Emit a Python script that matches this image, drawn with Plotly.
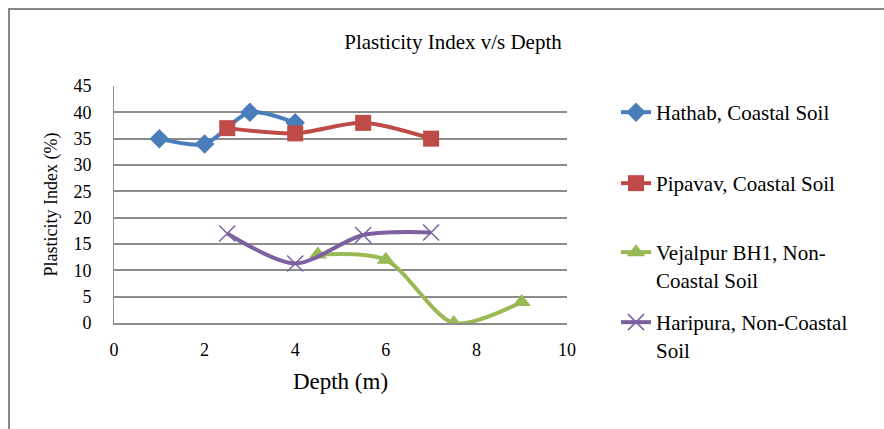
import plotly.graph_objects as go

hathab_x = [1, 2, 3, 4]
hathab_y = [35, 34, 40, 38]
pipavav_x = [2.5, 4, 5.5, 7]
pipavav_y = [37, 36, 38, 35]
vejalpur_x = [4.5, 6, 7.5, 9]
vejalpur_y = [13, 12, 0, 4]
haripura_x = [2.5, 4, 5.5, 7]
haripura_y = [17, 11.3, 16.7, 17.2]

names = ["Hathab, Coastal Soil", "Pipavav, Coastal Soil",
         "Vejalpur BH1, Non-<br>Coastal Soil", "Haripura, Non-Coastal<br>Soil"]
colors = ["#4A7EBB", "#BE4B48", "#98B954", "#7D60A0"]
symbols = ["diamond", "square", "triangle-up", "x-thin"]
sizes = [15, 16, 16, 16]
legend_ids = ["legend", "legend2", "legend3", "legend4"]
legend_centres = [112, 183, 252, 322]  # pixel y of first text line centre

FONT = "Liberation Serif, Times New Roman, serif"
L, R, T, B = 114, 317, 86, 106
W, H = 884, 429
PW, PH = W - L - R, H - T - B

fig = go.Figure()
series = [(hathab_x, hathab_y), (pipavav_x, pipavav_y), (vejalpur_x, vejalpur_y), (haripura_x, haripura_y)]
for i, (xs, ys) in enumerate(series):
    marker = dict(symbol=symbols[i], size=sizes[i], color=colors[i])
    if symbols[i] == "x-thin":
        marker["line"] = dict(color=colors[i], width=1.5)
    fig.add_trace(go.Scatter(
        x=xs, y=ys, name=names[i], mode="lines+markers",
        line=dict(color=colors[i], width=4, shape="spline", smoothing=0.8),
        marker=marker, legend=legend_ids[i], showlegend=True,
    ))

layout = dict(
    width=W, height=H,
    margin=dict(l=L, r=R, t=T, b=B),
    paper_bgcolor="white", plot_bgcolor="white",
    showlegend=True,
    font=dict(family=FONT, size=18, color="black"),
    title=dict(text="Plasticity Index v/s Depth", x=453 / W, xanchor="center",
               y=1 - 42 / H, yanchor="middle", font=dict(size=21)),
    xaxis=dict(range=[0, 10], dtick=2, showgrid=False, zeroline=False,
               showline=True, linecolor="#8C8C8C", linewidth=1.5,
               ticks="outside", ticklen=10, tickcolor="rgba(0,0,0,0)", tickfont=dict(size=18),
               title=dict(text="Depth (m)", font=dict(size=23), standoff=14)),
    yaxis=dict(range=[0, 45], dtick=5, showgrid=True, gridcolor="#8C8C8C", gridwidth=1.5,
               zeroline=False, showline=True, linecolor="#8C8C8C", linewidth=1,
               ticks="outside", ticklen=18, tickcolor="rgba(0,0,0,0)", tickfont=dict(size=18),
               title=dict(text="Plasticity Index (%)", font=dict(size=18), standoff=11)),
    shapes=[dict(type="rect", xref="paper", yref="paper",
                 x0=-(L - 9) / PW, x1=2.0, y0=-1.0, y1=1 + (T - 9) / PH,
                 line=dict(color="#888888", width=2), layer="below")],
)
for i, lid in enumerate(legend_ids):
    layout[lid] = dict(x=(616 - L) / PW, xanchor="left", y=1 - (legend_centres[i] - 20 - T) / PH,
                       yanchor="top", valign="top", font=dict(size=21),
                       bgcolor="rgba(0,0,0,0)", borderwidth=0)
fig.update_layout(**layout)

fig.write_html("out.html")
